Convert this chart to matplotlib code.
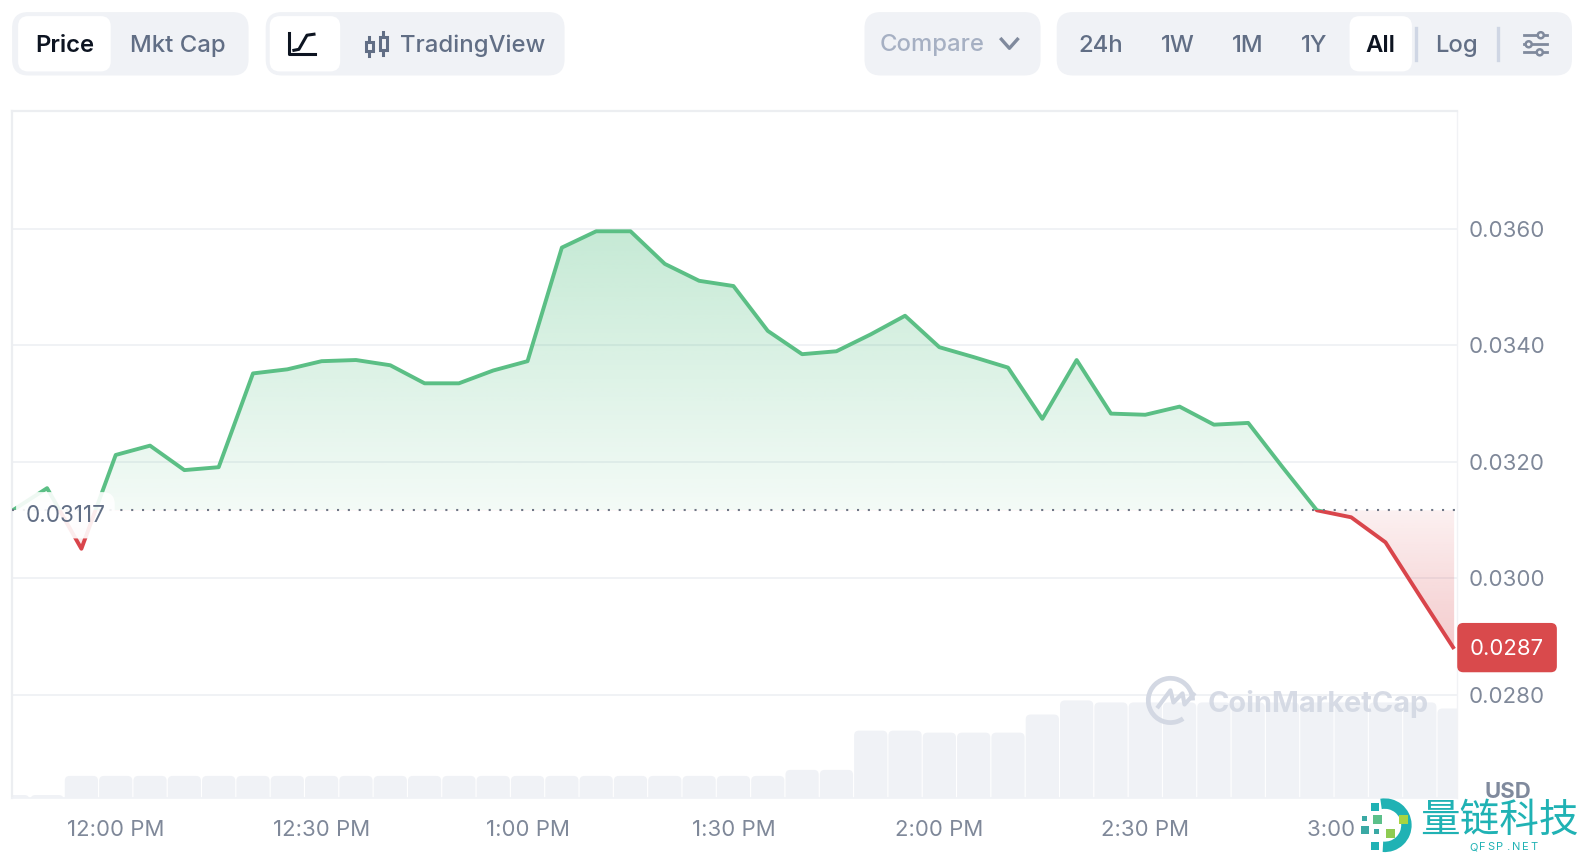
"""CoinMarketCap style price chart with its toolbar."""

import numpy as np
import matplotlib
matplotlib.use("Agg")
import matplotlib.pyplot as plt
from matplotlib.patches import FancyBboxPatch, Circle, Arc, Rectangle

plt.rcParams["font.family"] = ["Inter", "Noto Sans CJK SC", "DejaVu Sans"]

# data, minutes after 12:00 PM on a 5 minute grid
minutes = [-15, -10, -5, 0, 5, 10, 15, 20, 25, 30, 35, 40, 45, 50, 55, 60, 65, 70, 75, 80, 85, 90,
           95, 100, 105, 110, 115, 120, 125, 130, 135, 140, 145, 150, 155, 160, 165, 170, 175,
           180, 185, 190, 195]
price = [0.03117, 0.03155, 0.03051, 0.03212, 0.03228, 0.03186, 0.03191, 0.03352, 0.03359, 0.03373,
         0.03375, 0.03366, 0.03335, 0.03335, 0.03357, 0.03373, 0.03568, 0.03596, 0.03596, 0.03540,
         0.03511, 0.03502, 0.03425, 0.03385, 0.03390, 0.03419, 0.03451, 0.03397, 0.03380, 0.03362,
         0.03274, 0.03375, 0.03283, 0.03281, 0.03295, 0.03264, 0.03267, 0.03191, 0.03117,
         0.03105, 0.03062, 0.02970, 0.02879]
volume = [3, 3, 22, 22, 22, 22, 22, 22, 22, 22, 22, 22, 22, 22, 22, 22, 22, 22, 22, 22, 22, 22,
          22, 28, 28, 67, 67, 65, 65, 65, 83, 97, 95, 95, 95, 95, 95, 95, 95, 95, 95, 95, 89]
baseline = 0.03117
last_price = "0.0287"
y_ticks = [0.0280, 0.0300, 0.0320, 0.0340, 0.0360]
y_tick_labels = ["0.0280", "0.0300", "0.0320", "0.0340", "0.0360"]
x_ticks = [0, 30, 60, 90, 120, 150, 180]
x_tick_labels = ["12:00 PM", "12:30 PM", "1:00 PM", "1:30 PM", "2:00 PM", "2:30 PM", "3:00 PM"]

W, H = 1578, 858
# layout below was measured on a 1568 wide view of the picture
VW, VH = 1568, 858 * 1568 / 1578
GREEN = "#5bbf85"
RED = "#d9454b"
PANEL = "#f0f2f6"
GREY_TEXT = "#616e85"
AXIS_TEXT = "#7f8899"
GRID = "#eff1f4"

fig = plt.figure(figsize=(W / 100, H / 100), dpi=100, facecolor="white")
rect = [12 / VW, (VH - 793) / VH, (1448 - 12) / VW, (793 - 110) / VH]
xlim = (-15.1, 195.45)
ylim = (0.02623, 0.03803)

# volume bars sit behind everything, y axis is in pixels of height
ax_vol = fig.add_axes(rect, zorder=1)
ax_vol.set_xlim(*xlim)
ax_vol.set_ylim(0, 683)
ax_vol.axis("off")
px_per_min = (1448 - 12) / (xlim[1] - xlim[0])
for m, v in zip(minutes, volume):
    ax_vol.add_patch(FancyBboxPatch((m - 2.42, -10), 4.84, v + 10,
                                    boxstyle="round,pad=0,rounding_size=0.7",
                                    mutation_aspect=px_per_min, fc=PANEL, ec="none"))

ax = fig.add_axes(rect, zorder=2)
ax.patch.set_alpha(0)
ax.set_xlim(*xlim)
ax.set_ylim(*ylim)
ax.yaxis.tick_right()
ax.set_yticks(y_ticks, y_tick_labels)
ax.set_xticks(x_ticks, x_tick_labels)
ax.tick_params(length=0, labelcolor=AXIS_TEXT)
ax.tick_params(axis="x", pad=16, labelsize=15.9)
ax.tick_params(axis="y", pad=8, labelsize=16)
for tick_label in ax.get_yticklabels():
    tick_label.set_y(tick_label.get_position()[1])
ax.grid(True, axis="y", color=GRID, linewidth=1.3)
ax.set_axisbelow(True)
for side in ["top", "left"]:
    ax.spines[side].set_color("#eceef1")
    ax.spines[side].set_linewidth(1.6)
ax.spines["right"].set_color("#f1f2f5")
ax.spines["right"].set_linewidth(1)
ax.spines["bottom"].set_color(PANEL)
ax.spines["bottom"].set_linewidth(1.2)

# gradient fills, clipped to the area between the price and the baseline
verts = list(zip(minutes, price)) + [(minutes[-1], baseline), (minutes[0], baseline)]
patch = plt.Polygon(verts, closed=True, fc="none", ec="none", transform=ax.transData)
ax.add_patch(patch)

up = np.ones((256, 2, 4))
up[..., :3] = matplotlib.colors.to_rgb("#3fb873")
up[..., 3] = np.linspace(0.30, 0.06, 256)[:, None]
im_up = ax.imshow(up, extent=(minutes[0], minutes[-1], baseline, max(price)), origin="upper",
                  aspect="auto", zorder=2, interpolation="bilinear")
im_up.set_clip_path(patch)
down = np.ones((256, 2, 4))
down[..., :3] = matplotlib.colors.to_rgb(RED)
down[..., 3] = np.linspace(0.08, 0.28, 256)[:, None]
im_down = ax.imshow(down, extent=(minutes[0], minutes[-1], min(price), baseline), origin="upper",
                    aspect="auto", zorder=2, interpolation="bilinear")
im_down.set_clip_path(patch)
ax.set_xlim(*xlim)
ax.set_ylim(*ylim)

line_up, = ax.plot(minutes, price, color=GREEN, linewidth=2.8, zorder=3, solid_capstyle="butt")
line_up.set_clip_path(Rectangle((xlim[0], baseline), xlim[1] - xlim[0], ylim[1] - baseline,
                                transform=ax.transData))
line_down, = ax.plot(minutes, price, color=RED, linewidth=2.8, zorder=3, solid_capstyle="butt")
line_down.set_clip_path(Rectangle((minutes[1], ylim[0]), xlim[1] - minutes[1], baseline - ylim[0],
                                  transform=ax.transData))
ax.axhline(baseline, color="#6f7686", linewidth=1.5, linestyle=(0, (1, 4.2)), zorder=4)

# everything around the chart goes in a pixel coordinate overlay
ov = fig.add_axes([0, 0, 1, 1], zorder=3)
ov.set_xlim(0, VW)
ov.set_ylim(VH, 0)
ov.axis("off")


def box(x0, y0, x1, y1, r, color, **kw):
    ov.add_patch(FancyBboxPatch((x0, y0), x1 - x0, y1 - y0,
                                boxstyle=f"round,pad=0,rounding_size={r}", fc=color, ec="none", **kw))


def label(x, y, s, color=GREY_TEXT, size=17.2, weight="medium", **kw):
    ov.text(x, y, s, color=color, fontsize=size, weight=weight, ha="center", va="center", **kw)


# baseline price label with its soft white plate
box(16, 489, 114, 535, 12, "white", alpha=0.9)
label(65, 513, "0.03117", size=16.2, weight="normal")

# toolbar groups
box(12, 12, 247, 75, 16, PANEL)
box(264, 12, 561, 75, 16, PANEL)
box(859, 12, 1034, 75, 16, PANEL)
box(1050, 12, 1562, 75, 16, PANEL)
box(18, 16, 110, 71, 10, "white")
box(268, 16, 338, 71, 10, "white")
box(1341, 16, 1403, 71, 10, "white")

label(64, 45.5, "Price", "#0d1421", weight="semibold")
label(177, 45.5, "Mkt Cap")
label(470, 45, "TradingView")
label(926, 45, "Compare", "#a6b0c3")
for tx, s in zip([1094, 1170, 1240, 1306, 1447], ["24h", "1W", "1M", "1Y", "Log"]):
    label(tx, 45.5, s)
label(1372, 45.5, "All", "#0d1421", weight="semibold")

for sx in [1407, 1489]:
    ov.plot([sx, sx], [28, 60], color="#cfd6e4", lw=2.4)

# line chart icon
ov.plot([287, 287, 313], [33, 54, 54], color="#0d1421", lw=2.2)
ov.plot([292, 297, 301, 305, 312], [50, 49, 42, 35, 34], color="#0d1421", lw=2.2)
# candle icon
for cx, top, bot in [(367, 37, 56), (381, 32, 55)]:
    ov.plot([cx, cx], [top, bot], color=GREY_TEXT, lw=2.2)
ov.add_patch(Rectangle((363.5, 42), 7, 9, fc=PANEL, ec=GREY_TEXT, lw=2.2, zorder=3))
ov.add_patch(Rectangle((377.5, 37), 7, 13, fc=PANEL, ec=GREY_TEXT, lw=2.2, zorder=3))
# chevron
ov.plot([995, 1003, 1011], [39, 48, 39], color="#808a9d", lw=2.4)
# settings icon
for sy, kx in [(35, 1531), (44, 1519), (52, 1530)]:
    ov.plot([1514, 1537], [sy, sy], color="#808a9d", lw=2)
    ov.add_patch(Circle((kx, sy), 3, fc=PANEL, ec="#808a9d", lw=1.8, zorder=3))

# current price tag
box(1448, 619, 1547, 668, 6, "#d94a4c")
label(1497, 645, last_price, "white", size=15.9, weight="normal")
label(1498, 787, "USD", "#808a9d", size=15.9, weight="bold")

# CoinMarketCap watermark
mark = "#d3d8e3"
ov.add_patch(Arc((1163, 696), 44, 44, theta1=55, theta2=360, color=mark, lw=3.4))
ov.plot([1151, 1163, 1166, 1175, 1177, 1186], [702, 686, 698, 689, 700, 690], color=mark, lw=3,
        solid_joinstyle="round")
label(1310, 700, "CoinMarketCap", mark, size=20.8, weight="bold", alpha=0.9)

# 量链科技 logo covers the end of the 3:00 PM label
ov.add_patch(Rectangle((1346, 795), 232, 70, fc="white", ec="none", zorder=4))
teal = "#20b2b4"
ov.add_patch(Arc((1376, 820), 43, 43, theta1=-100, theta2=95, color=teal, lw=7.5, zorder=5))
squares = [(1366, 802, 8, teal), (1369, 814, 9, "#5cc08a"), (1395, 814, 9, "#a8d440"),
           (1382, 828, 9, "#8ecb52"), (1356, 825, 8, "#3aa9a4"), (1366, 841, 8, teal),
           (1368, 826, 5, "#3aa9a4"), (1356, 813, 5, "#3aa9a4")]
for sx, sy, sz, c in squares:
    ov.add_patch(Rectangle((sx - sz / 2, sy - sz / 2), sz, sz, fc=c, ec="none", zorder=5))
ov.text(1490, 816, "量链科技", color=teal, fontsize=28.5, ha="center", va="center", zorder=5,
        family=["Noto Sans CJK SC", "DejaVu Sans"])
for i, ch in enumerate("QFSP.NET"):
    ov.text(1464 + i * 8.6, 842, ch, color=teal, fontsize=8, ha="center", va="center", zorder=5)

fig.savefig("out.png", dpi=100, facecolor="white")
